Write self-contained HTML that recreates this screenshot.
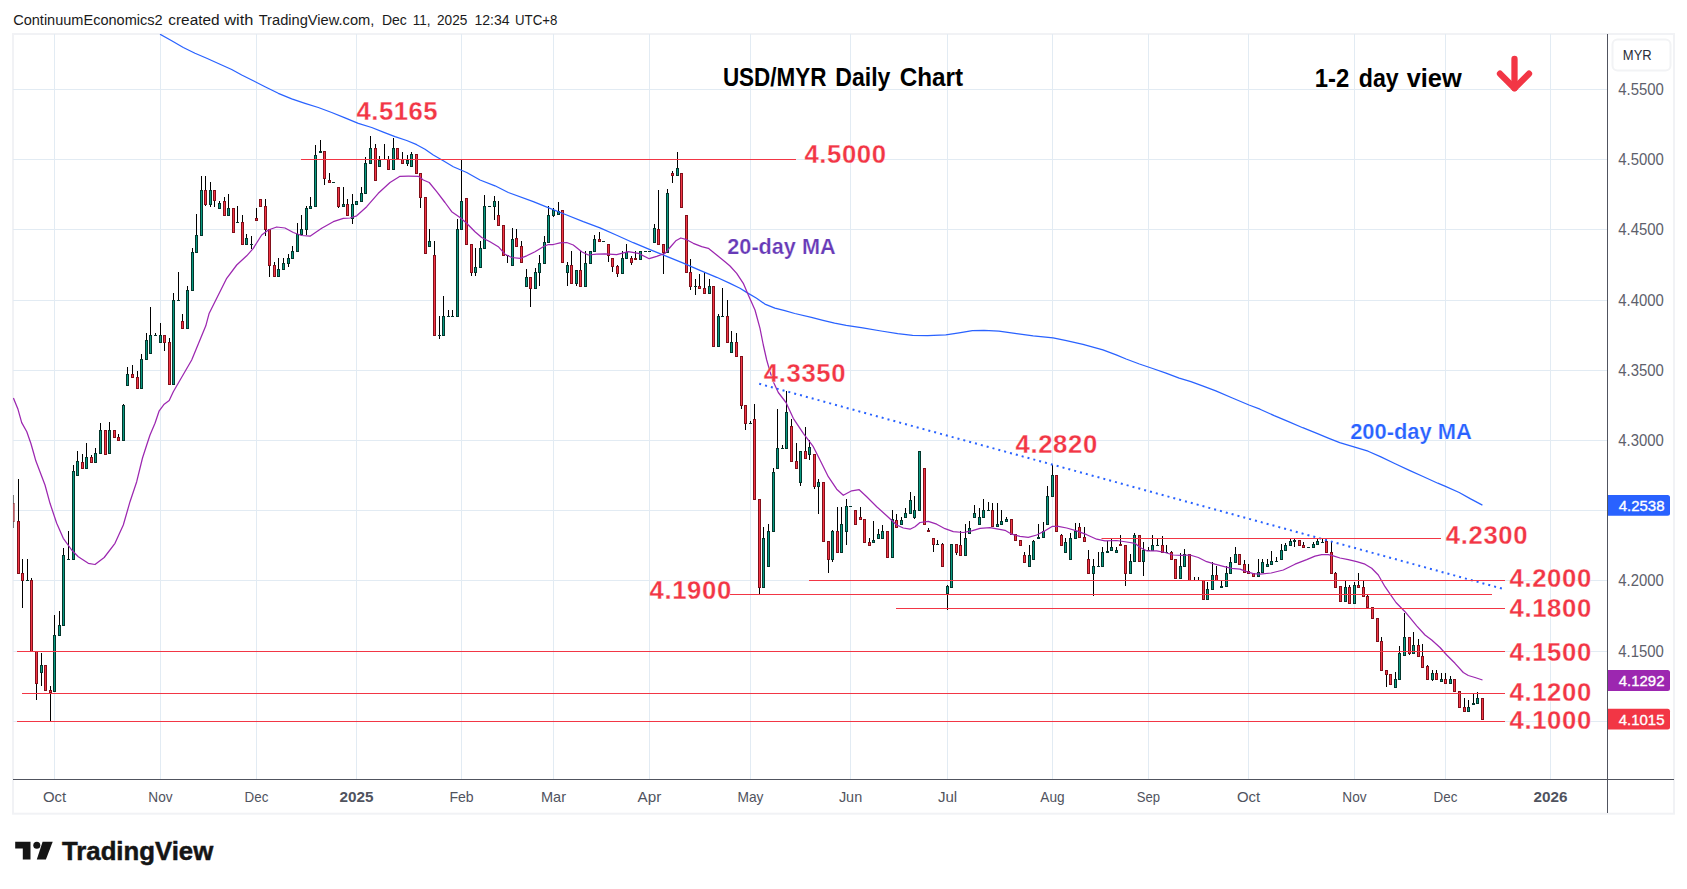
<!DOCTYPE html>
<html lang="en"><head><meta charset="utf-8"><title>USD/MYR Daily Chart</title>
<style>html,body{margin:0;padding:0;background:#fff;overflow:hidden}svg{display:block}text{font-family:"Liberation Sans",sans-serif}.b{font-weight:bold}</style></head><body>
<svg width="1687" height="889" viewBox="0 0 1687 889">
<rect width="1687" height="889" fill="#fff"/>
<rect x="13" y="34" width="1661" height="779.7" fill="none" stroke="#f1f2f5" stroke-width="2"/>
<g stroke="#e2ebf3" stroke-width="1" shape-rendering="crispEdges">
<line x1="13" y1="89.5" x2="1607" y2="89.5"/>
<line x1="13" y1="159.5" x2="1607" y2="159.5"/>
<line x1="13" y1="229.5" x2="1607" y2="229.5"/>
<line x1="13" y1="300.5" x2="1607" y2="300.5"/>
<line x1="13" y1="370.5" x2="1607" y2="370.5"/>
<line x1="13" y1="440.5" x2="1607" y2="440.5"/>
<line x1="13" y1="510.5" x2="1607" y2="510.5"/>
<line x1="13" y1="580.5" x2="1607" y2="580.5"/>
<line x1="13" y1="651.5" x2="1607" y2="651.5"/>
<line x1="13" y1="721.5" x2="1607" y2="721.5"/>
<line x1="54.5" y1="34" x2="54.5" y2="779"/>
<line x1="160.5" y1="34" x2="160.5" y2="779"/>
<line x1="256.5" y1="34" x2="256.5" y2="779"/>
<line x1="356.5" y1="34" x2="356.5" y2="779"/>
<line x1="461.5" y1="34" x2="461.5" y2="779"/>
<line x1="553.5" y1="34" x2="553.5" y2="779"/>
<line x1="649.5" y1="34" x2="649.5" y2="779"/>
<line x1="750.5" y1="34" x2="750.5" y2="779"/>
<line x1="850.5" y1="34" x2="850.5" y2="779"/>
<line x1="947.5" y1="34" x2="947.5" y2="779"/>
<line x1="1052.5" y1="34" x2="1052.5" y2="779"/>
<line x1="1148.5" y1="34" x2="1148.5" y2="779"/>
<line x1="1248.5" y1="34" x2="1248.5" y2="779"/>
<line x1="1354.5" y1="34" x2="1354.5" y2="779"/>
<line x1="1445.5" y1="34" x2="1445.5" y2="779"/>
<line x1="1550.5" y1="34" x2="1550.5" y2="779"/>
</g>
<defs><clipPath id="cp"><rect x="13" y="34" width="1594" height="745"/></clipPath></defs>
<g clip-path="url(#cp)">
<g fill="#000" shape-rendering="crispEdges"><rect x="13" y="495" width="1" height="33" opacity="0.5"/><rect x="18" y="479" width="1" height="95"/><rect x="22" y="559" width="1" height="49"/><rect x="27" y="559" width="1" height="22"/><rect x="31" y="578" width="1" height="74"/><rect x="36" y="651" width="1" height="49"/><rect x="41" y="653" width="1" height="33"/><rect x="50" y="686" width="1" height="36"/><rect x="54" y="615" width="1" height="77"/><rect x="59" y="611" width="1" height="25"/><rect x="63" y="548" width="1" height="78"/><rect x="68" y="531" width="1" height="29"/><rect x="73" y="465" width="1" height="95"/><rect x="77" y="451" width="1" height="25"/><rect x="82" y="454" width="1" height="15"/><rect x="86" y="443" width="1" height="26"/><rect x="91" y="455" width="1" height="8"/><rect x="95" y="448" width="1" height="15"/><rect x="100" y="423" width="1" height="31"/><rect x="109" y="422" width="1" height="32"/><rect x="118" y="434" width="1" height="7"/><rect x="123" y="404" width="1" height="37"/><rect x="127" y="367" width="1" height="19"/><rect x="132" y="365" width="1" height="13"/><rect x="137" y="371" width="1" height="18"/><rect x="141" y="354" width="1" height="35"/><rect x="146" y="333" width="1" height="27"/><rect x="150" y="307" width="1" height="47"/><rect x="155" y="333" width="1" height="3"/><rect x="160" y="323" width="1" height="20"/><rect x="164" y="335" width="1" height="16"/><rect x="169" y="338" width="1" height="47"/><rect x="173" y="293" width="1" height="92"/><rect x="178" y="272" width="1" height="29"/><rect x="182" y="314" width="1" height="15"/><rect x="187" y="286" width="1" height="43"/><rect x="192" y="248" width="1" height="43"/><rect x="196" y="214" width="1" height="39"/><rect x="201" y="176" width="1" height="60"/><rect x="205" y="176" width="1" height="30"/><rect x="210" y="182" width="1" height="25"/><rect x="214" y="190" width="1" height="17"/><rect x="219" y="201" width="1" height="8"/><rect x="224" y="197" width="1" height="19"/><rect x="228" y="194" width="1" height="22"/><rect x="237" y="206" width="1" height="17"/><rect x="242" y="215" width="1" height="30"/><rect x="246" y="234" width="1" height="11"/><rect x="251" y="236" width="1" height="13"/><rect x="256" y="208" width="1" height="13"/><rect x="265" y="199" width="1" height="37"/><rect x="269" y="229" width="1" height="48"/><rect x="274" y="262" width="1" height="15"/><rect x="278" y="258" width="1" height="19"/><rect x="283" y="258" width="1" height="12"/><rect x="288" y="254" width="1" height="13"/><rect x="292" y="246" width="1" height="13"/><rect x="297" y="223" width="1" height="29"/><rect x="301" y="215" width="1" height="20"/><rect x="306" y="206" width="1" height="29"/><rect x="310" y="197" width="1" height="12"/><rect x="315" y="145" width="1" height="62"/><rect x="320" y="140" width="1" height="13"/><rect x="324" y="151" width="1" height="34"/><rect x="329" y="173" width="1" height="10"/><rect x="338" y="187" width="1" height="21"/><rect x="343" y="187" width="1" height="20"/><rect x="347" y="199" width="1" height="17"/><rect x="352" y="194" width="1" height="30"/><rect x="361" y="187" width="1" height="15"/><rect x="365" y="157" width="1" height="37"/><rect x="370" y="136" width="1" height="28"/><rect x="375" y="144" width="1" height="37"/><rect x="379" y="156" width="1" height="11"/><rect x="384" y="144" width="1" height="16"/><rect x="388" y="156" width="1" height="14"/><rect x="393" y="138" width="1" height="32"/><rect x="402" y="152" width="1" height="12"/><rect x="407" y="155" width="1" height="11"/><rect x="411" y="152" width="1" height="15"/><rect x="420" y="173" width="1" height="35"/><rect x="429" y="229" width="1" height="18"/><rect x="434" y="241" width="1" height="95"/><rect x="439" y="316" width="1" height="23"/><rect x="443" y="296" width="1" height="40"/><rect x="448" y="310" width="1" height="7"/><rect x="452" y="310" width="1" height="7"/><rect x="457" y="219" width="1" height="98"/><rect x="461" y="159" width="1" height="71"/><rect x="471" y="244" width="1" height="32"/><rect x="475" y="248" width="1" height="28"/><rect x="480" y="241" width="1" height="27"/><rect x="484" y="195" width="1" height="54"/><rect x="494" y="196" width="1" height="24"/><rect x="498" y="201" width="1" height="25"/><rect x="507" y="255" width="1" height="8"/><rect x="512" y="228" width="1" height="38"/><rect x="516" y="229" width="1" height="18"/><rect x="521" y="241" width="1" height="22"/><rect x="526" y="269" width="1" height="18"/><rect x="530" y="277" width="1" height="30"/><rect x="535" y="268" width="1" height="21"/><rect x="539" y="255" width="1" height="31"/><rect x="544" y="236" width="1" height="28"/><rect x="548" y="206" width="1" height="37"/><rect x="553" y="208" width="1" height="9"/><rect x="558" y="202" width="1" height="13"/><rect x="567" y="262" width="1" height="24"/><rect x="571" y="251" width="1" height="33"/><rect x="576" y="270" width="1" height="16"/><rect x="580" y="251" width="1" height="36"/><rect x="585" y="251" width="1" height="36"/><rect x="594" y="235" width="1" height="17"/><rect x="599" y="232" width="1" height="10"/><rect x="608" y="244" width="1" height="18"/><rect x="612" y="258" width="1" height="14"/><rect x="617" y="265" width="1" height="12"/><rect x="622" y="251" width="1" height="23"/><rect x="626" y="244" width="1" height="15"/><rect x="631" y="256" width="1" height="9"/><rect x="635" y="251" width="1" height="9"/><rect x="654" y="224" width="1" height="19"/><rect x="658" y="190" width="1" height="55"/><rect x="663" y="244" width="1" height="30"/><rect x="667" y="189" width="1" height="64"/><rect x="672" y="171" width="1" height="12"/><rect x="677" y="152" width="1" height="24"/><rect x="690" y="259" width="1" height="31"/><rect x="695" y="279" width="1" height="16"/><rect x="699" y="274" width="1" height="15"/><rect x="704" y="272" width="1" height="22"/><rect x="709" y="279" width="1" height="15"/><rect x="718" y="314" width="1" height="33"/><rect x="722" y="288" width="1" height="29"/><rect x="727" y="300" width="1" height="43"/><rect x="731" y="331" width="1" height="22"/><rect x="736" y="333" width="1" height="24"/><rect x="741" y="356" width="1" height="53"/><rect x="745" y="405" width="1" height="25"/><rect x="750" y="421" width="1" height="3"/><rect x="754" y="404" width="1" height="96"/><rect x="759" y="499" width="1" height="95"/><rect x="763" y="527" width="1" height="61"/><rect x="768" y="524" width="1" height="43"/><rect x="773" y="468" width="1" height="64"/><rect x="777" y="409" width="1" height="60"/><rect x="782" y="445" width="1" height="4"/><rect x="786" y="391" width="1" height="58"/><rect x="791" y="419" width="1" height="43"/><rect x="796" y="443" width="1" height="26"/><rect x="800" y="451" width="1" height="35"/><rect x="805" y="427" width="1" height="32"/><rect x="809" y="440" width="1" height="20"/><rect x="814" y="454" width="1" height="35"/><rect x="818" y="479" width="1" height="35"/><rect x="828" y="541" width="1" height="32"/><rect x="832" y="530" width="1" height="32"/><rect x="837" y="507" width="1" height="46"/><rect x="841" y="507" width="1" height="46"/><rect x="846" y="499" width="1" height="46"/><rect x="860" y="507" width="1" height="13"/><rect x="869" y="538" width="1" height="8"/><rect x="873" y="521" width="1" height="22"/><rect x="878" y="529" width="1" height="10"/><rect x="882" y="525" width="1" height="14"/><rect x="892" y="510" width="1" height="48"/><rect x="896" y="514" width="1" height="14"/><rect x="901" y="517" width="1" height="8"/><rect x="905" y="508" width="1" height="10"/><rect x="910" y="492" width="1" height="22"/><rect x="914" y="496" width="1" height="23"/><rect x="928" y="528" width="1" height="4"/><rect x="933" y="538" width="1" height="14"/><rect x="937" y="540" width="1" height="5"/><rect x="942" y="543" width="1" height="24"/><rect x="947" y="585" width="1" height="25"/><rect x="956" y="544" width="1" height="11"/><rect x="960" y="531" width="1" height="25"/><rect x="965" y="524" width="1" height="32"/><rect x="969" y="521" width="1" height="13"/><rect x="974" y="505" width="1" height="13"/><rect x="979" y="508" width="1" height="17"/><rect x="983" y="499" width="1" height="19"/><rect x="988" y="502" width="1" height="9"/><rect x="992" y="503" width="1" height="24"/><rect x="997" y="503" width="1" height="24"/><rect x="1001" y="510" width="1" height="15"/><rect x="1006" y="517" width="1" height="5"/><rect x="1024" y="552" width="1" height="11"/><rect x="1029" y="545" width="1" height="22"/><rect x="1033" y="540" width="1" height="20"/><rect x="1038" y="524" width="1" height="15"/><rect x="1043" y="522" width="1" height="16"/><rect x="1047" y="486" width="1" height="39"/><rect x="1052" y="465" width="1" height="32"/><rect x="1061" y="534" width="1" height="12"/><rect x="1065" y="538" width="1" height="15"/><rect x="1070" y="533" width="1" height="27"/><rect x="1075" y="523" width="1" height="16"/><rect x="1079" y="523" width="1" height="15"/><rect x="1084" y="527" width="1" height="15"/><rect x="1088" y="550" width="1" height="24"/><rect x="1093" y="559" width="1" height="37"/><rect x="1098" y="552" width="1" height="15"/><rect x="1102" y="547" width="1" height="20"/><rect x="1107" y="541" width="1" height="12"/><rect x="1111" y="539" width="1" height="12"/><rect x="1116" y="547" width="1" height="6"/><rect x="1120" y="535" width="1" height="11"/><rect x="1125" y="545" width="1" height="41"/><rect x="1130" y="554" width="1" height="20"/><rect x="1134" y="533" width="1" height="29"/><rect x="1143" y="542" width="1" height="34"/><rect x="1148" y="547" width="1" height="4"/><rect x="1152" y="535" width="1" height="16"/><rect x="1157" y="539" width="1" height="7"/><rect x="1162" y="536" width="1" height="17"/><rect x="1166" y="545" width="1" height="8"/><rect x="1171" y="551" width="1" height="9"/><rect x="1180" y="553" width="1" height="26"/><rect x="1184" y="549" width="1" height="18"/><rect x="1194" y="577" width="1" height="4"/><rect x="1198" y="577" width="1" height="4"/><rect x="1207" y="582" width="1" height="18"/><rect x="1212" y="562" width="1" height="28"/><rect x="1216" y="566" width="1" height="15"/><rect x="1221" y="580" width="1" height="8"/><rect x="1226" y="566" width="1" height="21"/><rect x="1230" y="557" width="1" height="17"/><rect x="1235" y="547" width="1" height="16"/><rect x="1244" y="560" width="1" height="13"/><rect x="1248" y="564" width="1" height="10"/><rect x="1258" y="559" width="1" height="18"/><rect x="1262" y="559" width="1" height="14"/><rect x="1267" y="559" width="1" height="8"/><rect x="1271" y="551" width="1" height="14"/><rect x="1276" y="557" width="1" height="5"/><rect x="1281" y="544" width="1" height="16"/><rect x="1285" y="543" width="1" height="8"/><rect x="1290" y="539" width="1" height="7"/><rect x="1294" y="539" width="1" height="8"/><rect x="1303" y="542" width="1" height="6"/><rect x="1313" y="542" width="1" height="6"/><rect x="1317" y="539" width="1" height="6"/><rect x="1322" y="539" width="1" height="4"/><rect x="1326" y="539" width="1" height="14"/><rect x="1331" y="542" width="1" height="32"/><rect x="1335" y="572" width="1" height="16"/><rect x="1345" y="581" width="1" height="21"/><rect x="1349" y="585" width="1" height="19"/><rect x="1354" y="582" width="1" height="22"/><rect x="1358" y="573" width="1" height="15"/><rect x="1363" y="581" width="1" height="16"/><rect x="1367" y="595" width="1" height="13"/><rect x="1381" y="637" width="1" height="34"/><rect x="1386" y="670" width="1" height="17"/><rect x="1395" y="672" width="1" height="16"/><rect x="1399" y="646" width="1" height="34"/><rect x="1404" y="613" width="1" height="43"/><rect x="1409" y="637" width="1" height="18"/><rect x="1413" y="632" width="1" height="22"/><rect x="1418" y="639" width="1" height="18"/><rect x="1422" y="644" width="1" height="24"/><rect x="1427" y="665" width="1" height="15"/><rect x="1432" y="670" width="1" height="11"/><rect x="1436" y="670" width="1" height="10"/><rect x="1441" y="673" width="1" height="9"/><rect x="1445" y="673" width="1" height="11"/><rect x="1450" y="676" width="1" height="8"/><rect x="1464" y="698" width="1" height="14"/><rect x="1468" y="700" width="1" height="12"/><rect x="1473" y="694" width="1" height="11"/><rect x="1477" y="692" width="1" height="12"/></g>
<g fill="#089981" stroke="#03362c" stroke-width="1" shape-rendering="crispEdges"><rect x="40.5" y="665.5" width="2" height="7"/><rect x="53.5" y="635.5" width="2" height="56"/><rect x="58.5" y="625.5" width="2" height="10"/><rect x="62.5" y="555.5" width="2" height="70"/><rect x="72.5" y="471.5" width="2" height="88"/><rect x="76.5" y="461.5" width="2" height="14"/><rect x="85.5" y="457.5" width="2" height="11"/><rect x="94.5" y="453.5" width="2" height="9"/><rect x="99.5" y="430.5" width="2" height="23"/><rect x="108.5" y="430.5" width="2" height="23"/><rect x="122.5" y="405.5" width="2" height="35"/><rect x="126.5" y="374.5" width="2" height="11"/><rect x="140.5" y="359.5" width="2" height="29"/><rect x="145.5" y="340.5" width="2" height="19"/><rect x="149.5" y="335.5" width="2" height="18"/><rect x="159.5" y="335.5" width="2" height="7"/><rect x="172.5" y="300.5" width="2" height="84"/><rect x="186.5" y="290.5" width="2" height="38"/><rect x="191.5" y="252.5" width="2" height="38"/><rect x="195.5" y="235.5" width="2" height="17"/><rect x="200.5" y="190.5" width="2" height="45"/><rect x="209.5" y="190.5" width="2" height="14"/><rect x="218.5" y="203.5" width="2" height="5"/><rect x="227.5" y="208.5" width="2" height="7"/><rect x="245.5" y="238.5" width="2" height="6"/><rect x="277.5" y="269.5" width="2" height="7"/><rect x="282.5" y="263.5" width="2" height="6"/><rect x="287.5" y="258.5" width="2" height="5"/><rect x="291.5" y="251.5" width="2" height="7"/><rect x="296.5" y="234.5" width="2" height="17"/><rect x="300.5" y="229.5" width="2" height="5"/><rect x="305.5" y="208.5" width="2" height="21"/><rect x="309.5" y="206.5" width="2" height="2"/><rect x="314.5" y="155.5" width="2" height="51"/><rect x="342.5" y="204.5" width="2" height="2"/><rect x="351.5" y="204.5" width="2" height="14"/><rect x="355.5" y="201.5" width="2" height="3"/><rect x="360.5" y="193.5" width="2" height="8"/><rect x="364.5" y="163.5" width="2" height="30"/><rect x="369.5" y="148.5" width="2" height="15"/><rect x="378.5" y="160.5" width="2" height="6"/><rect x="392.5" y="148.5" width="2" height="21"/><rect x="406.5" y="160.5" width="2" height="3"/><rect x="410.5" y="154.5" width="2" height="12"/><rect x="428.5" y="241.5" width="2" height="5"/><rect x="442.5" y="316.5" width="2" height="19"/><rect x="456.5" y="229.5" width="2" height="87"/><rect x="460.5" y="201.5" width="2" height="28"/><rect x="474.5" y="267.5" width="2" height="5"/><rect x="479.5" y="248.5" width="2" height="19"/><rect x="483.5" y="206.5" width="2" height="42"/><rect x="493.5" y="201.5" width="2" height="5"/><rect x="511.5" y="239.5" width="2" height="26"/><rect x="525.5" y="277.5" width="2" height="9"/><rect x="534.5" y="272.5" width="2" height="16"/><rect x="538.5" y="263.5" width="2" height="9"/><rect x="543.5" y="242.5" width="2" height="21"/><rect x="547.5" y="215.5" width="2" height="27"/><rect x="552.5" y="210.5" width="2" height="5"/><rect x="557.5" y="211.5" width="2" height="3"/><rect x="566.5" y="265.5" width="2" height="7"/><rect x="575.5" y="270.5" width="2" height="13"/><rect x="584.5" y="263.5" width="2" height="23"/><rect x="589.5" y="251.5" width="2" height="12"/><rect x="593.5" y="239.5" width="2" height="12"/><rect x="621.5" y="258.5" width="2" height="15"/><rect x="625.5" y="252.5" width="2" height="6"/><rect x="639.5" y="251.5" width="2" height="8"/><rect x="653.5" y="228.5" width="2" height="14"/><rect x="666.5" y="193.5" width="2" height="59"/><rect x="676.5" y="168.5" width="2" height="7"/><rect x="708.5" y="286.5" width="2" height="7"/><rect x="717.5" y="316.5" width="2" height="30"/><rect x="730.5" y="342.5" width="2" height="10"/><rect x="762.5" y="538.5" width="2" height="49"/><rect x="767.5" y="531.5" width="2" height="35"/><rect x="772.5" y="472.5" width="2" height="59"/><rect x="776.5" y="448.5" width="2" height="20"/><rect x="785.5" y="412.5" width="2" height="36"/><rect x="799.5" y="451.5" width="2" height="31"/><rect x="808.5" y="447.5" width="2" height="7"/><rect x="817.5" y="482.5" width="2" height="4"/><rect x="831.5" y="531.5" width="2" height="28"/><rect x="840.5" y="524.5" width="2" height="28"/><rect x="845.5" y="506.5" width="2" height="25"/><rect x="872.5" y="540.5" width="2" height="2"/><rect x="877.5" y="534.5" width="2" height="4"/><rect x="881.5" y="531.5" width="2" height="7"/><rect x="891.5" y="519.5" width="2" height="38"/><rect x="900.5" y="520.5" width="2" height="4"/><rect x="904.5" y="513.5" width="2" height="4"/><rect x="909.5" y="500.5" width="2" height="13"/><rect x="913.5" y="510.5" width="2" height="7"/><rect x="918.5" y="451.5" width="2" height="59"/><rect x="946.5" y="586.5" width="2" height="7"/><rect x="950.5" y="544.5" width="2" height="43"/><rect x="964.5" y="538.5" width="2" height="17"/><rect x="968.5" y="528.5" width="2" height="5"/><rect x="973.5" y="513.5" width="2" height="4"/><rect x="978.5" y="517.5" width="2" height="7"/><rect x="982.5" y="510.5" width="2" height="7"/><rect x="996.5" y="524.5" width="2" height="2"/><rect x="1000.5" y="521.5" width="2" height="3"/><rect x="1005.5" y="519.5" width="2" height="2"/><rect x="1028.5" y="555.5" width="2" height="11"/><rect x="1032.5" y="541.5" width="2" height="18"/><rect x="1042.5" y="531.5" width="2" height="6"/><rect x="1046.5" y="496.5" width="2" height="28"/><rect x="1051.5" y="475.5" width="2" height="21"/><rect x="1064.5" y="542.5" width="2" height="10"/><rect x="1069.5" y="538.5" width="2" height="21"/><rect x="1074.5" y="531.5" width="2" height="7"/><rect x="1092.5" y="566.5" width="2" height="7"/><rect x="1101.5" y="552.5" width="2" height="14"/><rect x="1110.5" y="547.5" width="2" height="3"/><rect x="1115.5" y="550.5" width="2" height="2"/><rect x="1129.5" y="561.5" width="2" height="12"/><rect x="1133.5" y="535.5" width="2" height="26"/><rect x="1142.5" y="550.5" width="2" height="11"/><rect x="1151.5" y="545.5" width="2" height="5"/><rect x="1179.5" y="566.5" width="2" height="12"/><rect x="1183.5" y="554.5" width="2" height="12"/><rect x="1206.5" y="589.5" width="2" height="10"/><rect x="1211.5" y="575.5" width="2" height="14"/><rect x="1225.5" y="573.5" width="2" height="13"/><rect x="1229.5" y="562.5" width="2" height="11"/><rect x="1234.5" y="554.5" width="2" height="8"/><rect x="1257.5" y="572.5" width="2" height="4"/><rect x="1261.5" y="562.5" width="2" height="10"/><rect x="1266.5" y="564.5" width="2" height="2"/><rect x="1270.5" y="561.5" width="2" height="3"/><rect x="1280.5" y="550.5" width="2" height="9"/><rect x="1284.5" y="545.5" width="2" height="5"/><rect x="1289.5" y="541.5" width="2" height="4"/><rect x="1312.5" y="544.5" width="2" height="3"/><rect x="1316.5" y="541.5" width="2" height="3"/><rect x="1344.5" y="587.5" width="2" height="14"/><rect x="1353.5" y="585.5" width="2" height="18"/><rect x="1394.5" y="679.5" width="2" height="8"/><rect x="1398.5" y="653.5" width="2" height="26"/><rect x="1403.5" y="637.5" width="2" height="18"/><rect x="1412.5" y="645.5" width="2" height="8"/><rect x="1431.5" y="673.5" width="2" height="6"/><rect x="1440.5" y="679.5" width="2" height="2"/><rect x="1449.5" y="679.5" width="2" height="4"/><rect x="1467.5" y="707.5" width="2" height="4"/><rect x="1476.5" y="698.5" width="2" height="5"/></g>
<g fill="#f23645" stroke="#820f1a" stroke-width="1" shape-rendering="crispEdges"><rect x="12.5" y="503.5" width="2" height="18" opacity="0.5"/><rect x="17.5" y="521.5" width="2" height="52"/><rect x="21.5" y="573.5" width="2" height="7"/><rect x="30.5" y="580.5" width="2" height="71"/><rect x="35.5" y="651.5" width="2" height="32"/><rect x="44.5" y="665.5" width="2" height="25"/><rect x="49.5" y="690.5" width="2" height="2"/><rect x="81.5" y="462.5" width="2" height="6"/><rect x="90.5" y="457.5" width="2" height="5"/><rect x="104.5" y="430.5" width="2" height="24"/><rect x="113.5" y="430.5" width="2" height="7"/><rect x="117.5" y="437.5" width="2" height="3"/><rect x="131.5" y="374.5" width="2" height="3"/><rect x="136.5" y="377.5" width="2" height="11"/><rect x="163.5" y="335.5" width="2" height="7"/><rect x="168.5" y="342.5" width="2" height="42"/><rect x="181.5" y="321.5" width="2" height="7"/><rect x="204.5" y="190.5" width="2" height="14"/><rect x="213.5" y="190.5" width="2" height="10"/><rect x="223.5" y="201.5" width="2" height="14"/><rect x="232.5" y="208.5" width="2" height="24"/><rect x="241.5" y="222.5" width="2" height="22"/><rect x="255.5" y="218.5" width="2" height="2"/><rect x="259.5" y="199.5" width="2" height="7"/><rect x="264.5" y="206.5" width="2" height="23"/><rect x="268.5" y="229.5" width="2" height="36"/><rect x="273.5" y="265.5" width="2" height="11"/><rect x="323.5" y="151.5" width="2" height="27"/><rect x="328.5" y="180.5" width="2" height="2"/><rect x="337.5" y="187.5" width="2" height="19"/><rect x="346.5" y="204.5" width="2" height="11"/><rect x="374.5" y="148.5" width="2" height="32"/><rect x="387.5" y="159.5" width="2" height="10"/><rect x="396.5" y="148.5" width="2" height="10"/><rect x="401.5" y="159.5" width="2" height="4"/><rect x="415.5" y="154.5" width="2" height="19"/><rect x="419.5" y="173.5" width="2" height="24"/><rect x="424.5" y="197.5" width="2" height="56"/><rect x="433.5" y="255.5" width="2" height="80"/><rect x="465.5" y="198.5" width="2" height="46"/><rect x="470.5" y="244.5" width="2" height="28"/><rect x="497.5" y="215.5" width="2" height="10"/><rect x="502.5" y="225.5" width="2" height="30"/><rect x="515.5" y="238.5" width="2" height="8"/><rect x="520.5" y="246.5" width="2" height="16"/><rect x="529.5" y="277.5" width="2" height="11"/><rect x="561.5" y="210.5" width="2" height="52"/><rect x="570.5" y="265.5" width="2" height="18"/><rect x="579.5" y="270.5" width="2" height="16"/><rect x="598.5" y="239.5" width="2" height="2"/><rect x="607.5" y="244.5" width="2" height="11"/><rect x="611.5" y="258.5" width="2" height="8"/><rect x="616.5" y="266.5" width="2" height="7"/><rect x="630.5" y="258.5" width="2" height="4"/><rect x="657.5" y="229.5" width="2" height="15"/><rect x="662.5" y="244.5" width="2" height="8"/><rect x="671.5" y="173.5" width="2" height="2"/><rect x="680.5" y="173.5" width="2" height="34"/><rect x="685.5" y="215.5" width="2" height="57"/><rect x="689.5" y="272.5" width="2" height="14"/><rect x="698.5" y="286.5" width="2" height="2"/><rect x="703.5" y="288.5" width="2" height="5"/><rect x="712.5" y="286.5" width="2" height="60"/><rect x="726.5" y="316.5" width="2" height="26"/><rect x="735.5" y="342.5" width="2" height="14"/><rect x="740.5" y="356.5" width="2" height="49"/><rect x="744.5" y="405.5" width="2" height="18"/><rect x="753.5" y="419.5" width="2" height="80"/><rect x="758.5" y="499.5" width="2" height="88"/><rect x="790.5" y="426.5" width="2" height="35"/><rect x="795.5" y="461.5" width="2" height="7"/><rect x="804.5" y="451.5" width="2" height="7"/><rect x="813.5" y="454.5" width="2" height="32"/><rect x="822.5" y="482.5" width="2" height="59"/><rect x="827.5" y="541.5" width="2" height="18"/><rect x="836.5" y="531.5" width="2" height="21"/><rect x="854.5" y="510.5" width="2" height="14"/><rect x="859.5" y="517.5" width="2" height="2"/><rect x="863.5" y="519.5" width="2" height="23"/><rect x="868.5" y="542.5" width="2" height="3"/><rect x="886.5" y="531.5" width="2" height="26"/><rect x="895.5" y="520.5" width="2" height="7"/><rect x="923.5" y="468.5" width="2" height="56"/><rect x="932.5" y="538.5" width="2" height="6"/><rect x="941.5" y="544.5" width="2" height="22"/><rect x="955.5" y="544.5" width="2" height="8"/><rect x="959.5" y="545.5" width="2" height="10"/><rect x="991.5" y="510.5" width="2" height="16"/><rect x="1010.5" y="519.5" width="2" height="15"/><rect x="1014.5" y="534.5" width="2" height="6"/><rect x="1019.5" y="540.5" width="2" height="5"/><rect x="1023.5" y="555.5" width="2" height="7"/><rect x="1055.5" y="475.5" width="2" height="56"/><rect x="1060.5" y="535.5" width="2" height="10"/><rect x="1078.5" y="527.5" width="2" height="10"/><rect x="1083.5" y="537.5" width="2" height="4"/><rect x="1087.5" y="559.5" width="2" height="14"/><rect x="1124.5" y="545.5" width="2" height="28"/><rect x="1138.5" y="535.5" width="2" height="26"/><rect x="1161.5" y="545.5" width="2" height="7"/><rect x="1170.5" y="552.5" width="2" height="7"/><rect x="1174.5" y="559.5" width="2" height="19"/><rect x="1188.5" y="554.5" width="2" height="26"/><rect x="1202.5" y="580.5" width="2" height="19"/><rect x="1215.5" y="575.5" width="2" height="5"/><rect x="1238.5" y="554.5" width="2" height="10"/><rect x="1243.5" y="564.5" width="2" height="8"/><rect x="1247.5" y="571.5" width="2" height="2"/><rect x="1252.5" y="573.5" width="2" height="3"/><rect x="1298.5" y="540.5" width="2" height="5"/><rect x="1302.5" y="545.5" width="2" height="2"/><rect x="1325.5" y="541.5" width="2" height="11"/><rect x="1330.5" y="552.5" width="2" height="21"/><rect x="1334.5" y="573.5" width="2" height="14"/><rect x="1339.5" y="586.5" width="2" height="15"/><rect x="1348.5" y="587.5" width="2" height="16"/><rect x="1357.5" y="585.5" width="2" height="2"/><rect x="1362.5" y="587.5" width="2" height="9"/><rect x="1366.5" y="596.5" width="2" height="11"/><rect x="1371.5" y="607.5" width="2" height="11"/><rect x="1376.5" y="618.5" width="2" height="23"/><rect x="1380.5" y="641.5" width="2" height="29"/><rect x="1385.5" y="670.5" width="2" height="4"/><rect x="1389.5" y="674.5" width="2" height="10"/><rect x="1408.5" y="637.5" width="2" height="16"/><rect x="1417.5" y="645.5" width="2" height="11"/><rect x="1421.5" y="656.5" width="2" height="11"/><rect x="1426.5" y="666.5" width="2" height="13"/><rect x="1435.5" y="673.5" width="2" height="6"/><rect x="1444.5" y="679.5" width="2" height="4"/><rect x="1453.5" y="679.5" width="2" height="12"/><rect x="1458.5" y="691.5" width="2" height="16"/><rect x="1463.5" y="707.5" width="2" height="4"/><rect x="1481.5" y="698.5" width="2" height="21"/></g>
<g shape-rendering="crispEdges"><rect x="26" y="580" width="3" height="1" fill="#03362c"/><rect x="67" y="559" width="3" height="1" fill="#03362c"/><rect x="154" y="335" width="3" height="1" fill="#03362c"/><rect x="177" y="300" width="3" height="1" fill="#03362c"/><rect x="236" y="222" width="3" height="1" fill="#03362c"/><rect x="250" y="244" width="3" height="1" fill="#03362c"/><rect x="319" y="151" width="3" height="2" fill="#03362c"/><rect x="332" y="182" width="3" height="1" fill="#03362c"/><rect x="383" y="159" width="3" height="1" fill="#03362c"/><rect x="438" y="335" width="3" height="1" fill="#03362c"/><rect x="447" y="316" width="3" height="1" fill="#03362c"/><rect x="451" y="316" width="3" height="1" fill="#03362c"/><rect x="488" y="206" width="3" height="1" fill="#03362c"/><rect x="506" y="255" width="3" height="1" fill="#03362c"/><rect x="602" y="241" width="3" height="1" fill="#03362c"/><rect x="634" y="258" width="3" height="2" fill="#820f1a"/><rect x="644" y="251" width="3" height="1" fill="#03362c"/><rect x="648" y="251" width="3" height="1" fill="#03362c"/><rect x="694" y="286" width="3" height="1" fill="#03362c"/><rect x="721" y="316" width="3" height="1" fill="#03362c"/><rect x="749" y="423" width="3" height="1" fill="#03362c"/><rect x="781" y="448" width="3" height="1" fill="#03362c"/><rect x="849" y="506" width="3" height="1" fill="#03362c"/><rect x="927" y="530" width="3" height="2" fill="#820f1a"/><rect x="936" y="544" width="3" height="1" fill="#03362c"/><rect x="987" y="510" width="3" height="1" fill="#03362c"/><rect x="1037" y="537" width="3" height="2" fill="#03362c"/><rect x="1097" y="566" width="3" height="1" fill="#03362c"/><rect x="1106" y="551" width="3" height="2" fill="#03362c"/><rect x="1119" y="544" width="3" height="2" fill="#820f1a"/><rect x="1147" y="550" width="3" height="1" fill="#03362c"/><rect x="1156" y="545" width="3" height="1" fill="#03362c"/><rect x="1165" y="552" width="3" height="1" fill="#03362c"/><rect x="1193" y="580" width="3" height="1" fill="#03362c"/><rect x="1197" y="580" width="3" height="1" fill="#03362c"/><rect x="1220" y="586" width="3" height="2" fill="#03362c"/><rect x="1275" y="561" width="3" height="1" fill="#03362c"/><rect x="1293" y="540" width="3" height="2" fill="#03362c"/><rect x="1307" y="547" width="3" height="1" fill="#03362c"/><rect x="1321" y="542" width="3" height="1" fill="#03362c"/><rect x="1472" y="703" width="3" height="2" fill="#03362c"/></g>
<path d="M160.0,34.2 L171.7,40.8 L183.3,47.5 L195.0,53.3 L206.7,58.3 L220.0,64.2 L231.7,69.5 L241.7,75.0 L253.3,80.8 L265.0,86.7 L278.3,93.3 L291.7,98.8 L305.0,103.3 L318.3,107.5 L331.7,112.5 L345.0,117.8 L358.3,123.3 L371.7,127.5 L383.3,132.2 L395.0,136.7 L406.7,140.5 L416.7,144.7 L425.0,149.2 L433.3,155.0 L443.3,160.8 L453.3,166.7 L466.7,172.5 L480.0,180.0 L495.0,185.8 L508.3,192.5 L533.3,201.7 L550.0,208.3 L566.7,215.0 L583.3,221.7 L600.0,227.9 L616.7,235.2 L633.3,242.7 L650.0,249.7 L666.7,256.4 L683.3,263.1 L700.0,270.4 L716.7,277.3 L730.0,283.4 L740.0,288.3 L746.6,292.4 L756.6,298.3 L764.9,304.1 L774.9,308.2 L784.8,310.7 L794.8,313.5 L811.4,317.3 L823.0,320.3 L834.6,323.2 L846.2,325.3 L862.8,327.8 L881.1,331.0 L897.7,333.6 L912.6,335.3 L927.6,335.6 L945.8,334.8 L959.1,332.8 L972.4,330.6 L984.0,330.3 L998.9,331.1 L1016.6,333.6 L1033.2,335.8 L1053.1,337.8 L1066.4,340.7 L1083.0,344.4 L1102.9,349.9 L1116.2,354.9 L1126.1,359.0 L1139.4,364.0 L1152.7,368.5 L1166.0,373.1 L1179.2,378.1 L1190.9,381.7 L1202.5,385.9 L1215.8,390.9 L1232.4,398.0 L1249.0,405.0 L1260.0,409.2 L1274.2,415.6 L1288.5,421.6 L1302.7,427.7 L1316.9,433.4 L1328.3,438.1 L1339.7,442.7 L1353.9,446.9 L1368.1,451.2 L1380.9,456.9 L1395.2,463.7 L1409.4,470.4 L1423.6,476.8 L1437.8,483.2 L1444.9,486.1 L1459.2,492.5 L1470.6,498.9 L1482.4,505.1" fill="none" stroke="#2962ff" stroke-width="1.25" stroke-linejoin="round"/>
<path d="M13.4,398.0 L18.0,409.3 L21.7,422.6 L26.8,431.8 L30.9,443.5 L33.9,454.0 L35.8,460.8 L45.0,485.0 L50.0,503.3 L56.7,523.3 L63.3,538.3 L71.7,550.0 L78.3,556.7 L88.3,563.3 L95.0,564.5 L104.2,557.5 L115.0,543.3 L123.3,525.0 L130.0,501.7 L136.7,481.7 L142.5,458.0 L146.7,445.0 L150.0,435.0 L155.0,423.3 L159.2,410.8 L164.2,404.2 L169.2,400.5 L173.3,391.7 L191.7,360.0 L205.8,325.8 L209.2,313.2 L216.7,298.3 L226.7,278.3 L236.7,265.0 L246.7,255.8 L253.3,248.3 L261.7,235.0 L268.3,230.0 L276.7,227.0 L285.0,228.0 L293.3,232.5 L301.7,235.5 L310.0,236.2 L321.7,228.3 L333.3,221.7 L343.3,218.3 L350.0,218.0 L356.7,215.8 L366.7,206.7 L378.3,193.3 L390.0,182.5 L400.0,176.3 L408.3,176.2 L418.3,176.3 L423.3,180.0 L429.2,182.5 L436.7,191.7 L445.0,202.5 L451.7,211.7 L460.0,217.5 L466.7,223.3 L475.0,231.7 L481.7,237.5 L490.0,241.7 L498.3,246.7 L505.0,254.2 L511.7,257.5 L520.0,258.3 L526.7,255.8 L535.0,251.7 L543.3,246.7 L548.3,244.5 L553.3,244.5 L560.0,242.8 L566.7,242.5 L573.3,245.0 L581.7,251.7 L588.3,255.0 L596.7,254.2 L605.0,253.8 L616.7,254.7 L628.3,251.7 L638.3,253.3 L649.2,258.7 L656.7,256.3 L665.0,253.3 L670.0,247.5 L675.8,240.8 L680.8,238.0 L686.7,239.7 L693.3,243.3 L701.7,246.7 L708.3,248.3 L716.7,255.0 L725.0,261.7 L730.0,266.0 L736.7,273.3 L743.3,283.3 L748.3,295.0 L755.0,310.0 L760.0,328.3 L763.3,345.0 L766.7,360.0 L770.0,371.7 L773.3,381.7 L778.3,392.5 L786.0,402.5 L793.3,418.3 L803.3,433.3 L813.3,446.7 L820.0,460.0 L828.3,476.7 L836.7,489.2 L843.3,495.3 L851.7,490.8 L859.2,489.7 L866.7,496.7 L876.7,506.7 L886.7,515.8 L896.7,525.0 L903.3,528.0 L910.0,529.2 L915.0,526.7 L920.0,522.5 L928.3,521.3 L936.7,524.2 L945.0,528.7 L953.3,531.7 L963.3,532.5 L971.7,530.8 L980.0,528.3 L990.0,527.6 L1005.0,530.3 L1011.7,534.2 L1020.0,536.3 L1028.3,537.3 L1036.7,535.0 L1045.0,530.8 L1052.5,526.3 L1058.3,526.3 L1066.7,528.0 L1076.7,530.8 L1086.7,534.7 L1096.7,539.2 L1105.0,540.8 L1116.7,540.5 L1126.7,542.0 L1135.0,543.3 L1140.0,547.5 L1146.7,550.8 L1156.7,550.8 L1165.0,552.5 L1173.3,555.0 L1181.7,555.3 L1190.0,555.0 L1198.3,557.5 L1206.7,561.7 L1215.0,564.2 L1223.3,566.3 L1231.7,568.3 L1240.0,569.2 L1246.7,571.7 L1253.3,573.7 L1260.0,574.2 L1271.2,573.0 L1283.3,570.0 L1295.0,564.2 L1306.7,559.7 L1315.0,556.2 L1321.7,554.7 L1328.3,554.7 L1333.3,555.8 L1340.0,558.0 L1348.3,559.7 L1356.7,561.7 L1365.0,564.2 L1371.7,568.3 L1378.3,575.0 L1385.0,586.7 L1390.5,594.6 L1396.0,602.5 L1405.0,611.7 L1416.7,625.8 L1425.0,635.0 L1431.7,640.0 L1440.0,647.5 L1446.7,655.0 L1455.0,663.3 L1463.3,672.5 L1468.3,675.5 L1475.0,677.5 L1482.5,680.0" fill="none" stroke="#9c27b0" stroke-width="1.25" stroke-linejoin="round"/>
<line x1="759.2" y1="383.8" x2="1502.5" y2="588.7" stroke="#2962ff" stroke-width="2" stroke-dasharray="2 4.05"/>
<g stroke="#f23645" stroke-width="1.05">
<line x1="301" y1="159.5" x2="796" y2="159.5"/>
<line x1="1101.5" y1="538.5" x2="1441" y2="538.5"/>
<line x1="809" y1="580.5" x2="1505" y2="580.5"/>
<line x1="730" y1="594.5" x2="1492" y2="594.5"/>
<line x1="896" y1="608.5" x2="1505" y2="608.5"/>
<line x1="17" y1="651.5" x2="1505" y2="651.5"/>
<line x1="22" y1="693.5" x2="1505" y2="693.5"/>
<line x1="17" y1="721.5" x2="1505" y2="721.5"/>
</g>
</g>
<text y="24.7" font-size="15.2" fill="#1a1a1a"><tspan x="13.2" textLength="149.4" lengthAdjust="spacingAndGlyphs">ContinuumEconomics2</tspan> <tspan x="168.3" textLength="51.3" lengthAdjust="spacingAndGlyphs">created</tspan> <tspan x="224.2" textLength="29.2" lengthAdjust="spacingAndGlyphs">with</tspan> <tspan x="258.7" textLength="115.7" lengthAdjust="spacingAndGlyphs">TradingView.com,</tspan> <tspan x="381.9" textLength="24.9" lengthAdjust="spacingAndGlyphs">Dec</tspan> <tspan x="412.8" textLength="17.8" lengthAdjust="spacingAndGlyphs">11,</tspan> <tspan x="437" textLength="30.3" lengthAdjust="spacingAndGlyphs">2025</tspan> <tspan x="474.4" textLength="35.2" lengthAdjust="spacingAndGlyphs">12:34</tspan> <tspan x="515" textLength="42.3" lengthAdjust="spacingAndGlyphs">UTC+8</tspan></text>
<text x="356.5" y="119.6" font-size="25.7" fill="#f23645" class="b" textLength="81.1" lengthAdjust="spacing" stroke="#fff" stroke-width="0.27" stroke-linejoin="round">4.5165</text>
<text x="804.5" y="162.9" font-size="25.7" fill="#f23645" class="b" textLength="81.5" lengthAdjust="spacing" stroke="#fff" stroke-width="0.27" stroke-linejoin="round">4.5000</text>
<text x="763.8" y="381.7" font-size="25.7" fill="#f23645" class="b" textLength="81.7" lengthAdjust="spacing" stroke="#fff" stroke-width="0.27" stroke-linejoin="round">4.3350</text>
<text x="1015.5" y="453.3" font-size="25.7" fill="#f23645" class="b" textLength="81.7" lengthAdjust="spacing" stroke="#fff" stroke-width="0.27" stroke-linejoin="round">4.2820</text>
<text x="1445.8" y="543.7" font-size="25.7" fill="#f23645" class="b" textLength="81.7" lengthAdjust="spacing" stroke="#fff" stroke-width="0.27" stroke-linejoin="round">4.2300</text>
<text x="1509.5" y="586.8" font-size="25.7" fill="#f23645" class="b" textLength="81.7" lengthAdjust="spacing" stroke="#fff" stroke-width="0.27" stroke-linejoin="round">4.2000</text>
<text x="1509.5" y="617.0" font-size="25.7" fill="#f23645" class="b" textLength="81.7" lengthAdjust="spacing" stroke="#fff" stroke-width="0.27" stroke-linejoin="round">4.1800</text>
<text x="1509.5" y="660.6" font-size="25.7" fill="#f23645" class="b" textLength="81.7" lengthAdjust="spacing" stroke="#fff" stroke-width="0.27" stroke-linejoin="round">4.1500</text>
<text x="1509.5" y="700.8" font-size="25.7" fill="#f23645" class="b" textLength="81.7" lengthAdjust="spacing" stroke="#fff" stroke-width="0.27" stroke-linejoin="round">4.1200</text>
<text x="1509.5" y="728.7" font-size="25.7" fill="#f23645" class="b" textLength="81.7" lengthAdjust="spacing" stroke="#fff" stroke-width="0.27" stroke-linejoin="round">4.1000</text>
<text x="649.5" y="599.3" font-size="25.7" fill="#f23645" class="b" textLength="81.7" lengthAdjust="spacing" stroke="#fff" stroke-width="0.27" stroke-linejoin="round">4.1900</text>
<text y="85.8" font-size="25.6" fill="#000" class="b"><tspan x="722.9" textLength="103.6" lengthAdjust="spacingAndGlyphs">USD/MYR</tspan> <tspan x="835.3" textLength="55.1" lengthAdjust="spacingAndGlyphs">Daily</tspan> <tspan x="899.7" textLength="63.4" lengthAdjust="spacingAndGlyphs">Chart</tspan></text>
<text y="86.8" font-size="24.9" fill="#000" class="b"><tspan x="1314.7" textLength="34.5" lengthAdjust="spacingAndGlyphs">1-2</tspan> <tspan x="1358.8" textLength="39.9" lengthAdjust="spacingAndGlyphs">day</tspan> <tspan x="1406.7" textLength="55.0" lengthAdjust="spacingAndGlyphs">view</tspan></text>
<text x="727.3" y="253.9" font-size="21.7" fill="#673ab7" class="b" textLength="108.3" lengthAdjust="spacingAndGlyphs" stroke="#fff" stroke-width="0.22">20-day MA</text>
<text x="1350.2" y="438.9" font-size="21.7" fill="#2962ff" class="b" textLength="121.6" lengthAdjust="spacingAndGlyphs" stroke="#fff" stroke-width="0.22">200-day MA</text>
<g fill="none" stroke="#f23645" stroke-width="6.3" stroke-linecap="round" stroke-linejoin="round"><path d="M1514.5,59 L1514.5,88.2"/><path d="M1500,73.7 L1514.5,88.2 L1529,73.7"/></g>
<g stroke="#50535e" stroke-width="1" shape-rendering="crispEdges"><line x1="1607.5" y1="34" x2="1607.5" y2="813"/><line x1="13" y1="779.5" x2="1674" y2="779.5"/></g>
<text x="1618.3" y="94.8" font-size="15.6" fill="#5d606b" textLength="45.6" lengthAdjust="spacingAndGlyphs">4.5500</text>
<text x="1618.3" y="164.8" font-size="15.6" fill="#5d606b" textLength="45.6" lengthAdjust="spacingAndGlyphs">4.5000</text>
<text x="1618.3" y="234.8" font-size="15.6" fill="#5d606b" textLength="45.6" lengthAdjust="spacingAndGlyphs">4.4500</text>
<text x="1618.3" y="305.8" font-size="15.6" fill="#5d606b" textLength="45.6" lengthAdjust="spacingAndGlyphs">4.4000</text>
<text x="1618.3" y="375.8" font-size="15.6" fill="#5d606b" textLength="45.6" lengthAdjust="spacingAndGlyphs">4.3500</text>
<text x="1618.3" y="445.8" font-size="15.6" fill="#5d606b" textLength="45.6" lengthAdjust="spacingAndGlyphs">4.3000</text>
<text x="1618.3" y="585.8" font-size="15.6" fill="#5d606b" textLength="45.6" lengthAdjust="spacingAndGlyphs">4.2000</text>
<text x="1618.3" y="656.8" font-size="15.6" fill="#5d606b" textLength="45.6" lengthAdjust="spacingAndGlyphs">4.1500</text>
<rect x="1612.5" y="39.5" width="58" height="31" rx="5" ry="5" fill="#fff" stroke="#f2f3f5" stroke-width="2"/>
<text x="1622.8" y="59.9" font-size="15" fill="#2a2e39" textLength="28.9" lengthAdjust="spacingAndGlyphs">MYR</text>
<path d="M1608,495.0 H1667.5 a2.5,2.5 0 0 1 2.5,2.5 V513.3 a2.5,2.5 0 0 1 -2.5,2.5 H1608 Z" fill="#2962ff"/>
<text x="1618.7" y="510.7" font-size="15.5" fill="#fff" textLength="45.8" lengthAdjust="spacingAndGlyphs" stroke="#fff" stroke-width="0.35">4.2538</text>
<path d="M1608,670.1 H1667.5 a2.5,2.5 0 0 1 2.5,2.5 V688.4 a2.5,2.5 0 0 1 -2.5,2.5 H1608 Z" fill="#9c27b0"/>
<text x="1618.7" y="685.8" font-size="15.5" fill="#fff" textLength="45.8" lengthAdjust="spacingAndGlyphs" stroke="#fff" stroke-width="0.35">4.1292</text>
<path d="M1608,708.8000000000001 H1667.5 a2.5,2.5 0 0 1 2.5,2.5 V727.1 a2.5,2.5 0 0 1 -2.5,2.5 H1608 Z" fill="#f23645"/>
<text x="1618.7" y="724.5" font-size="15.5" fill="#fff" textLength="45.8" lengthAdjust="spacingAndGlyphs" stroke="#fff" stroke-width="0.35">4.1015</text>
<text x="42.9" y="802.2" font-size="15" fill="#50535e" textLength="23.2" lengthAdjust="spacingAndGlyphs">Oct</text>
<text x="148.3" y="802.2" font-size="15" fill="#50535e" textLength="24.3" lengthAdjust="spacingAndGlyphs">Nov</text>
<text x="244.6" y="802.2" font-size="15" fill="#50535e" textLength="23.8" lengthAdjust="spacingAndGlyphs">Dec</text>
<text x="339.5" y="802.2" font-size="15" fill="#50535e" class="b" textLength="34" lengthAdjust="spacingAndGlyphs">2025</text>
<text x="449.4" y="802.2" font-size="15" fill="#50535e" textLength="24.3" lengthAdjust="spacingAndGlyphs">Feb</text>
<text x="541.0" y="802.2" font-size="15" fill="#50535e" textLength="25" lengthAdjust="spacingAndGlyphs">Mar</text>
<text x="637.6" y="802.2" font-size="15" fill="#50535e" textLength="23.7" lengthAdjust="spacingAndGlyphs">Apr</text>
<text x="737.5" y="802.2" font-size="15" fill="#50535e" textLength="26" lengthAdjust="spacingAndGlyphs">May</text>
<text x="838.9" y="802.2" font-size="15" fill="#50535e" textLength="23.3" lengthAdjust="spacingAndGlyphs">Jun</text>
<text x="937.9" y="802.2" font-size="15" fill="#50535e" textLength="19.3" lengthAdjust="spacingAndGlyphs">Jul</text>
<text x="1040.3" y="802.2" font-size="15" fill="#50535e" textLength="24.3" lengthAdjust="spacingAndGlyphs">Aug</text>
<text x="1136.8" y="802.2" font-size="15" fill="#50535e" textLength="23.3" lengthAdjust="spacingAndGlyphs">Sep</text>
<text x="1236.9" y="802.2" font-size="15" fill="#50535e" textLength="23.2" lengthAdjust="spacingAndGlyphs">Oct</text>
<text x="1342.3" y="802.2" font-size="15" fill="#50535e" textLength="24.3" lengthAdjust="spacingAndGlyphs">Nov</text>
<text x="1433.6" y="802.2" font-size="15" fill="#50535e" textLength="23.8" lengthAdjust="spacingAndGlyphs">Dec</text>
<text x="1533.5" y="802.2" font-size="15" fill="#50535e" class="b" textLength="34" lengthAdjust="spacingAndGlyphs">2026</text>
<g fill="#151515"><path d="M15.2,841.7 H30.5 V859.6 H22.8 V848.4 H15.2 Z"/><circle cx="36.8" cy="845.2" r="3.5"/><path d="M42.6,841.7 H52.7 L45.9,859.6 H36.8 Z"/></g>
<text x="62" y="859.7" font-size="26" fill="#151515" class="b" textLength="151.2" lengthAdjust="spacingAndGlyphs" stroke="#151515" stroke-width="0.5">TradingView</text>
</svg></body></html>
